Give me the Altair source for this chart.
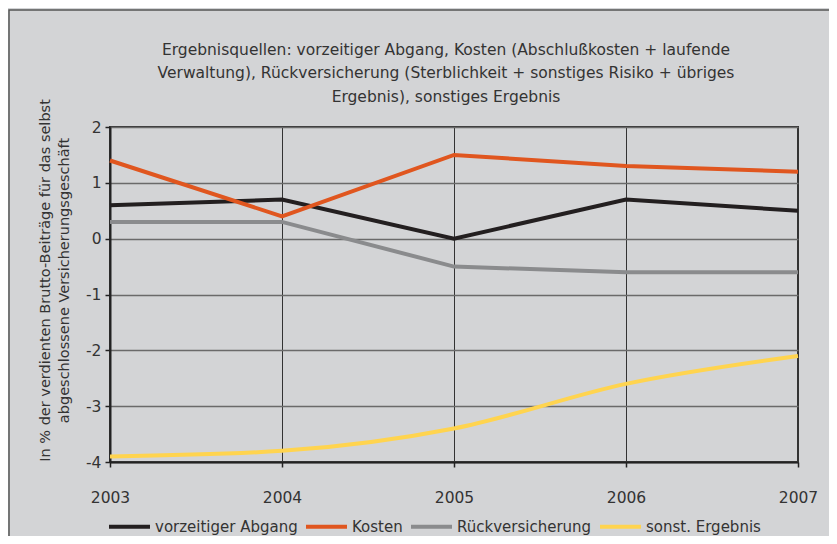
import altair as alt
import pandas as pd

years = [2003, 2004, 2005, 2006, 2007]
series_names = ["vorzeitiger Abgang", "Kosten", "Rückversicherung", "sonst. Ergebnis"]
vorzeitiger_abgang = [0.6, 0.7, 0.0, 0.7, 0.5]
kosten = [1.4, 0.4, 1.5, 1.3, 1.2]
rueckversicherung = [0.3, 0.3, -0.5, -0.6, -0.6]
sonst_ergebnis = [-3.9, -3.8, -3.4, -2.6, -2.1]
colors = ["#231f20", "#e0561f", "#8a8b8d", "#ffd44f"]
y_ticks = [-4, -3, -2, -1, 0, 1, 2]

title_lines = [
    "Ergebnisquellen: vorzeitiger Abgang, Kosten (Abschlußkosten + laufende",
    "Verwaltung), Rückversicherung (Sterblichkeit + sonstiges Risiko + übriges",
    "Ergebnis), sonstiges Ergebnis",
]
y_title = [
    "In % der verdienten Brutto-Beiträge für das selbst",
    "abgeschlossene Versicherungsgeschäft",
]

rows = []
for name, vals in zip(series_names, [vorzeitiger_abgang, kosten, rueckversicherung, sonst_ergebnis]):
    for yr, v in zip(years, vals):
        rows.append({"Jahr": yr, "Wert": v, "Reihe": name})
df = pd.DataFrame(rows)

FONT = "DejaVu Sans"
TXT = "#333333"

color = alt.Color(
    "Reihe:N",
    scale=alt.Scale(domain=series_names, range=colors),
    sort=series_names,
    legend=alt.Legend(
        title=None,
        orient="none",
        legendX=-3,
        legendY=377,
        direction="horizontal",
        symbolType="stroke",
        symbolSize=1680,
        symbolStrokeWidth=4,
        labelFont=FONT,
        labelFontSize=15,
        labelColor=TXT,
        labelOffset=3,
        columnPadding=0,
    ),
)

x = alt.X(
    "Jahr:Q",
    scale=alt.Scale(domain=[2003, 2007], nice=False, zero=False),
    axis=alt.Axis(
        values=years, format="d", title=None, labelFontSize=15.5, labelPadding=23,
        labelFlush=False, labelBound=False,
        gridColor="#333333", gridWidth=1, tickSize=5,
    ),
)
y = alt.Y(
    "Wert:Q",
    scale=alt.Scale(domain=[-4, 2], nice=False),
    axis=alt.Axis(
        values=y_ticks, title=y_title, labelFontSize=15.5, labelPadding=4,
        labelExpr="datum.value < 0 ? '-' + abs(datum.value) : '' + datum.value",
        gridColor="#6a6a6a", gridWidth=1.5, tickSize=5,
        titleFontSize=14.5, titleFontWeight="normal", titleLineHeight=19,
        titlePadding=14, titleY=153,
    ),
)

frame = alt.Chart(pd.DataFrame({"a": [0]})).mark_rect(
    fill="transparent", stroke="#555555", strokeWidth=1.5
).encode(x=alt.value(-101), x2=alt.value(900), y=alt.value(-117), y2=alt.value(600))

straight = alt.Chart(df).transform_filter(
    alt.datum.Reihe != "sonst. Ergebnis"
).mark_line(strokeWidth=4).encode(x=x, y=y, color=color)

smooth = alt.Chart(df).transform_filter(
    alt.datum.Reihe == "sonst. Ergebnis"
).mark_line(strokeWidth=4, interpolate="monotone").encode(x=x, y=y, color=color)

chart = alt.layer(frame, straight, smooth).properties(
    width=688,
    height=335,
    background="#d3d4d6",
    autosize=alt.AutoSizeParams(type="none"),
    padding={"left": 102, "top": 119, "right": 31, "bottom": 74},
    title=alt.TitleParams(
        text=title_lines, font=FONT, fontSize=15.5, fontWeight="normal",
        color=TXT, anchor="middle", frame="group", lineHeight=23.5, offset=20,
        dx=-8, dy=116,
    ),
).configure_view(
    stroke="#333333", strokeWidth=2
).configure_axis(
    labelFont=FONT, titleFont=FONT, labelColor=TXT, titleColor=TXT,
    domainColor="#222222", domainWidth=2, tickColor="#222222", tickWidth=1.5,
)

chart.save("out.html", embed_options={"renderer": "svg", "actions": False})
